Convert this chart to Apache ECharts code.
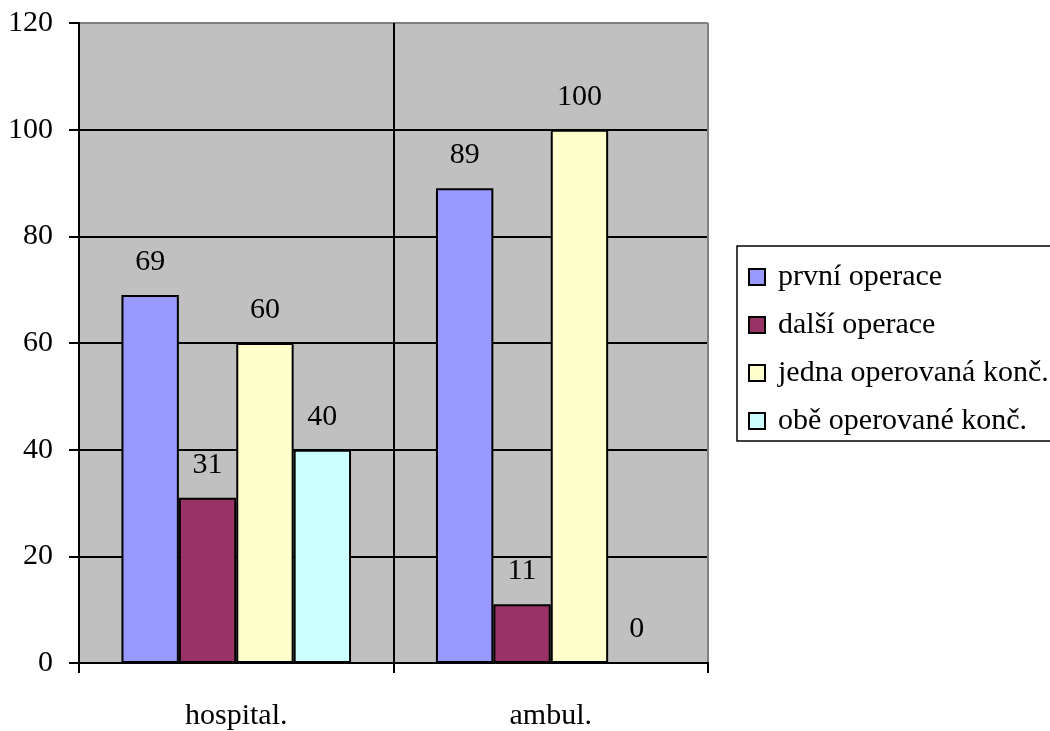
<!DOCTYPE html>
<html>
<head>
<meta charset="utf-8">
<script src="https://cdn.jsdelivr.net/npm/echarts@6/dist/echarts.min.js"></script>
<style>
  html, body { margin: 0; padding: 0; background: #fff; }
  #chart { width: 1050px; height: 731px; }
</style>
</head>
<body>
<div id="chart"></div>
<script>
// Categories and series values
const categories = ['hospital.', 'ambul.'];
const seriesNames = ['první operace', 'další operace', 'jedna operovaná konč.', 'obě operované konč.'];
const prvniOperace = [69, 89];
const dalsiOperace = [31, 11];
const jednaKonc = [60, 100];
const obeKonc = [40, 0];
const yTicks = { min: 0, max: 120, interval: 20 };

const colors = ['#9999FF', '#993366', '#FFFFCC', '#CCFFFF'];
const font = 'Liberation Serif';
const values = [prvniOperace, dalsiOperace, jednaKonc, obeKonc];

const chart = echarts.init(document.getElementById('chart'), null, { renderer: 'canvas' });

chart.setOption({
  animation: false,
  backgroundColor: '#ffffff',
  textStyle: { fontFamily: font, color: '#000' },
  grid: {
    left: 79, right: 342, top: 23, bottom: 65,
    show: true, backgroundColor: '#C0C0C0', borderWidth: 0
  },
  legend: {
    orient: 'vertical',
    left: 737, top: 246,
    padding: [16, 12, 5, 11],
    itemGap: 18,
    itemWidth: 16, itemHeight: 16,
    backgroundColor: '#ffffff',
    borderColor: '#000', borderWidth: 1.5,
    icon: 'rect',
    itemStyle: { borderColor: '#000', borderWidth: 2 },
    textStyle: { fontFamily: font, fontSize: 30, color: '#000', lineHeight: 30, padding: [0, 0, 0, 8] },
    data: seriesNames
  },
  xAxis: {
    type: 'category',
    data: categories,
    axisLine: { lineStyle: { color: '#000', width: 2 } },
    axisTick: { show: true, length: 10, lineStyle: { color: '#000', width: 2 } },
    axisLabel: { fontFamily: font, fontSize: 30, color: '#000', margin: 38 },
    splitLine: { show: true, lineStyle: { color: ['#000', '#000', '#808080'], width: 2 } }
  },
  yAxis: {
    type: 'value',
    min: yTicks.min, max: yTicks.max, interval: yTicks.interval,
    axisLine: { show: true, lineStyle: { color: '#000', width: 2 } },
    axisTick: { show: true, length: 10, lineStyle: { color: '#000', width: 2 } },
    axisLabel: { fontFamily: font, fontSize: 30, color: '#000', margin: 26 },
    splitLine: {
      show: true,
      lineStyle: { color: ['#000', '#000', '#000', '#000', '#000', '#000', '#808080'], width: 2 }
    }
  },
  series: seriesNames.map((name, i) => ({
    name,
    type: 'bar',
    data: values[i],
    barGap: '0%',
    barCategoryGap: '27%',
    itemStyle: { color: colors[i], borderColor: '#000', borderWidth: 2 },
    label: {
      show: true,
      position: 'top',
      distance: 18,
      fontFamily: font,
      fontSize: 30,
      color: '#000'
    }
  }))
});
</script>
</body>
</html>
